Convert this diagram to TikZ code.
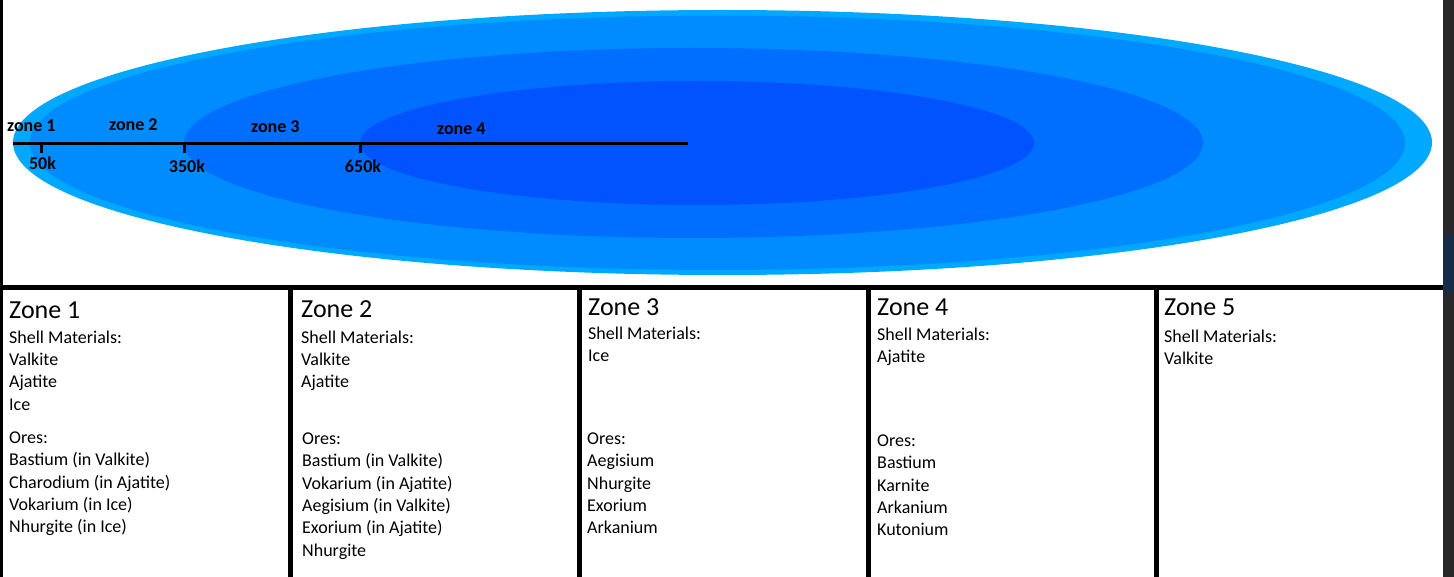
\documentclass[tikz,border=0pt]{standalone}
\usepackage{fontspec}
\setmainfont{Carlito}
\definecolor{bandA}{RGB}{0,168,255}
\definecolor{bandB}{RGB}{0,139,255}
\definecolor{bandC}{RGB}{0,110,255}
\definecolor{bandD}{RGB}{0,83,255}
\definecolor{sidegray}{RGB}{40,40,42}
\definecolor{sidenavy}{RGB}{22,44,70}
\begin{document}
\begin{tikzpicture}[x=1pt, y=-1pt,
        zlbl/.style     = {font=\fontsize{18}{22}\selectfont\bfseries,
                           inner sep=0pt, anchor=base west},
        klbl/.style     = {font=\fontsize{18}{22}\selectfont\bfseries,
                           inner sep=0pt, anchor=base},
        ttl/.style      = {font=\fontsize{26}{30}\selectfont,
                           inner sep=0pt, anchor=base west},
        lst/.style      = {font=\fontsize{18}{22.4}\selectfont,
                           inner sep=0pt, anchor=north west, yshift=11.5pt,
                           align=left, execute at begin node=\strut},
        axisrule/.style = {line width=3pt},
        cellrule/.style = {line width=5pt}
    ]
        \useasboundingbox[fill=white] (0,0) rectangle (1454,577);

        % zones as nested ellipses
        \fill[bandA] (722.5,142.5) ellipse [x radius=709.5pt, y radius=132.5pt];
        \fill[bandB] (717.5,142.8) ellipse [x radius=687.5pt, y radius=127.2pt];
        \fill[bandC] (693.5,143)   ellipse [x radius=509.5pt, y radius=95pt];
        \fill[bandD] (697,143)     ellipse [x radius=337pt,   y radius=62pt];

        % depth axis
        \coordinate (axL) at (13,143.5);
        \coordinate (axR) at (688,143.5);
        \draw[axisrule] (axL) -- (axR);
        \foreach \x/\n in {41/t1, 184/t2, 360/t3} {
            \coordinate (\n) at (\x,143.5);
            \draw[axisrule] (\n) -- ++(0,9.5);
        }
        \node[klbl] (k50)  at (42.5,170) {50k};
        \node[klbl] (k350) at (187,173)  {350k};
        \node[klbl] (k650) at (363,173)  {650k};

        \node[zlbl] (zl1) at (7,132)   {zone 1};
        \node[zlbl] (zl2) at (109,131) {zone 2};
        \node[zlbl] (zl3) at (251,133) {zone 3};
        \node[zlbl] (zl4) at (437,135) {zone 4};

        % frame of the table
        \fill[black] (0,0) rectangle (3,577);
        \fill[sidegray] (1443,0) rectangle (1454,577);
        \fill[sidenavy] (1443,235) rectangle (1454,292);
        \draw[cellrule] (0,288) -- (1443,288);
        \foreach \x in {290.5, 579.5, 868, 1156.5}
            \draw[cellrule] (\x,288) -- (\x,577);

        % zone 1
        \node[ttl] (z1) at (9,319) {Zone 1};
        \node[lst] (z1shell) at (9,342)
            {Shell Materials:\\Valkite\\Ajatite\\Ice};
        \node[lst] (z1ores) at (9,443)
            {Ores:\\Bastium (in Valkite)\\Charodium (in Ajatite)\\
             Vokarium (in Ice)\\Nhurgite (in Ice)};

        % zone 2
        \node[ttl] (z2) at (301,318) {Zone 2};
        \node[lst] (z2shell) at (301,342)
            {Shell Materials:\\Valkite\\Ajatite};
        \node[lst] (z2ores) at (302,444)
            {Ores:\\Bastium (in Valkite)\\Vokarium (in Ajatite)\\
             Aegisium (in Valkite)\\Exorium (in Ajatite)\\Nhurgite};

        % zone 3
        \node[ttl] (z3) at (588,316) {Zone 3};
        \node[lst] (z3shell) at (588,338)
            {Shell Materials:\\Ice};
        \node[lst] (z3ores) at (587,444)
            {Ores:\\Aegisium\\Nhurgite\\Exorium\\Arkanium};

        % zone 4
        \node[ttl] (z4) at (877,316) {Zone 4};
        \node[lst] (z4shell) at (877,339)
            {Shell Materials:\\Ajatite};
        \node[lst] (z4ores) at (877,446)
            {Ores:\\Bastium\\Karnite\\Arkanium\\Kutonium};

        % zone 5
        \node[ttl] (z5) at (1164,316) {Zone 5};
        \node[lst] (z5shell) at (1164,341)
            {Shell Materials:\\Valkite};
    \end{tikzpicture}
\end{document}
